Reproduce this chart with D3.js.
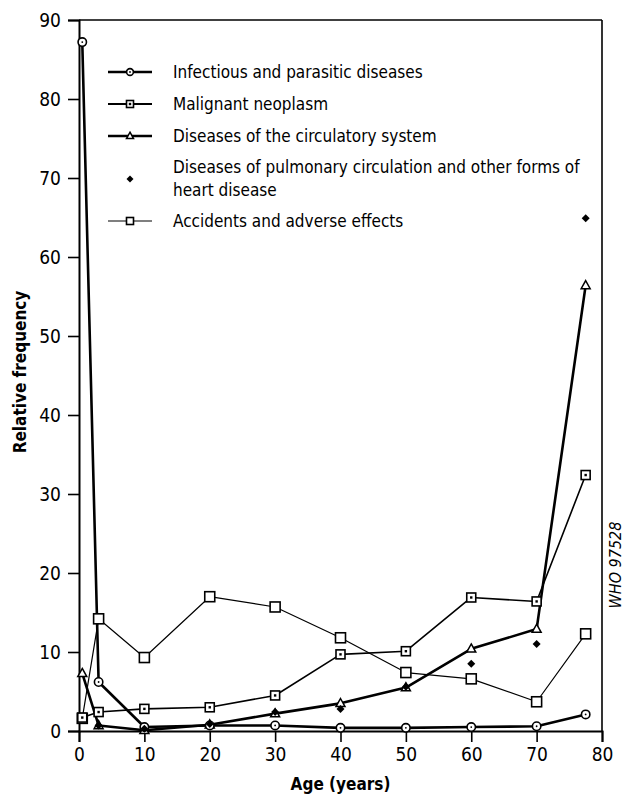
<!DOCTYPE html>
<html>
<head>
<meta charset="utf-8">
<script src="https://cdn.jsdelivr.net/npm/d3@7"></script>
<style>
  html, body { margin: 0; padding: 0; background: #fff; }
  svg { display: block; }
  text { font-family: "DejaVu Sans Condensed", "DejaVu Sans", sans-serif; font-stretch: condensed; fill: #000; }
</style>
</head>
<body>
<script>
// Age points (years) at which relative frequencies were recorded
const ages = [0.5, 3, 10, 20, 30, 40, 50, 60, 70, 77.5];

const infectious  = [87.2, 6.2, 0.5, 0.7, 0.7, 0.4, 0.4, 0.5, 0.6, 2.1];
const neoplasm    = [1.7, 2.4, 2.8, 3.0, 4.5, 9.7, 10.1, 16.9, 16.4, 32.4];
const circulatory = [7.3, 0.7, 0.1, 0.8, 2.2, 3.5, 5.5, 10.4, 12.9, 56.4];
const accidents   = [1.6, 14.2, 9.3, 17.0, 15.7, 11.8, 7.4, 6.6, 3.7, 12.3];

// Pulmonary circulation / other heart disease: points only
const pulmonaryAges = [3, 10, 20, 30, 40, 50, 60, 70, 77.5];
const pulmonary     = [0.7, 0.3, 0.9, 2.4, 2.8, 5.6, 8.5, 11.0, 64.9];

const xTicks = [0, 10, 20, 30, 40, 50, 60, 70, 80];
const yTicks = [0, 10, 20, 30, 40, 50, 60, 70, 80, 90];

const legendLabels = [
  ["Infectious and parasitic diseases"],
  ["Malignant neoplasm"],
  ["Diseases of the circulatory system"],
  ["Diseases of pulmonary circulation and other forms of", "heart disease"],
  ["Accidents and adverse effects"]
];

const W = 631, H = 802;
const svg = d3.select("body").append("svg").attr("width", W).attr("height", H);

const x = d3.scaleLinear().domain([0, 80]).range([79, 602]);
const y = d3.scaleLinear().domain([0, 90]).range([731, 20]);

// Frame: top and right edges
svg.append("line").attr("x1", x(0)).attr("x2", x(80)).attr("y1", y(90)).attr("y2", y(90))
  .attr("stroke", "#000").attr("stroke-width", 1.6);
svg.append("line").attr("x1", x(80)).attr("x2", x(80)).attr("y1", y(90)).attr("y2", y(0))
  .attr("stroke", "#000").attr("stroke-width", 1.6);

// Axes
const yAxis = svg.append("g").attr("transform", `translate(${x(0)},0)`)
  .call(d3.axisLeft(y).tickValues(yTicks).tickSize(11).tickPadding(7).tickFormat(d3.format("d")));
const xAxis = svg.append("g").attr("transform", `translate(0,${y(0)})`)
  .call(d3.axisBottom(x).tickValues(xTicks).tickSize(11).tickPadding(6).tickFormat(d3.format("d")));
[yAxis, xAxis].forEach(g => {
  g.select(".domain").attr("stroke", "#000").attr("stroke-width", 2);
  g.selectAll(".tick line").attr("stroke", "#000").attr("stroke-width", 1.6);
  g.selectAll(".tick text").style("font-size", "19px")
    .style("font-family", '"DejaVu Sans Condensed", "DejaVu Sans", sans-serif');
});

// Axis titles
svg.append("text").attr("x", x(40)).attr("y", 790).attr("text-anchor", "middle")
  .style("font-size", "17px").style("font-weight", "bold").text("Age (years)");
svg.append("text").attr("transform", `translate(26,${372}) rotate(-90)`).attr("text-anchor", "middle")
  .style("font-size", "17px").style("font-weight", "bold").text("Relative frequency");
svg.append("text").attr("transform", `translate(621,${565}) rotate(-90)`).attr("text-anchor", "middle")
  .style("font-size", "16px").style("font-style", "italic").text("WHO 97528");

// Marker helpers
function circleMark(g, cx, cy, r) {
  g.append("circle").attr("cx", cx).attr("cy", cy).attr("r", r)
    .attr("fill", "#fff").attr("stroke", "#000").attr("stroke-width", 1.6);
  g.append("circle").attr("cx", cx).attr("cy", cy).attr("r", 0.9).attr("fill", "#000");
}
function squareMark(g, cx, cy, s, dot) {
  g.append("rect").attr("x", cx - s / 2).attr("y", cy - s / 2).attr("width", s).attr("height", s)
    .attr("fill", "#fff").attr("stroke", "#000").attr("stroke-width", 1.6);
  if (dot) g.append("rect").attr("x", cx - 1.2).attr("y", cy - 1.2).attr("width", 2.4).attr("height", 2.4).attr("fill", "#000");
}
function triangleMark(g, cx, cy, s) {
  const h = s * 0.9;
  g.append("path").attr("d", `M${cx},${cy - h * 0.6}L${cx + s / 2},${cy + h * 0.4}L${cx - s / 2},${cy + h * 0.4}Z`)
    .attr("fill", "#fff").attr("stroke", "#000").attr("stroke-width", 1.5);
}
function diamondMark(g, cx, cy, s) {
  g.append("path").attr("d", `M${cx},${cy - s / 2}L${cx + s / 2},${cy}L${cx},${cy + s / 2}L${cx - s / 2},${cy}Z`)
    .attr("fill", "#000");
}

const line = d3.line().x(d => x(d[0])).y(d => y(d[1]));
const zipped = vals => ages.map((a, i) => [a, vals[i]]);

// Series definitions
const series = [
  { vals: accidents,   width: 1.2, mark: (g, cx, cy) => squareMark(g, cx, cy, 10, false) },
  { vals: neoplasm,    width: 1.6, mark: (g, cx, cy) => squareMark(g, cx, cy, 9, true) },
  { vals: circulatory, width: 2.6, mark: (g, cx, cy) => triangleMark(g, cx, cy, 9) },
  { vals: infectious,  width: 2.6, mark: (g, cx, cy) => circleMark(g, cx, cy, 4.2) }
];

const plot = svg.append("g");
series.forEach(s => {
  plot.append("path").datum(zipped(s.vals)).attr("d", line)
    .attr("fill", "none").attr("stroke", "#000").attr("stroke-width", s.width).attr("stroke-linejoin", "round");
});
series.forEach(s => {
  const g = plot.append("g");
  zipped(s.vals).forEach(d => s.mark(g, x(d[0]), y(d[1])));
});
const pg = plot.append("g");
pulmonaryAges.forEach((a, i) => diamondMark(pg, x(a), y(pulmonary[i]), 8));

// Legend
const legend = svg.append("g");
const lx0 = 108, lx1 = 152, lxm = 130, tx = 173;
const rows = [72, 104, 136, 179, 221];
const legendStyles = [
  { width: 2.6, mark: (g, cx, cy) => circleMark(g, cx, cy, 3.4) },
  { width: 1.8, mark: (g, cx, cy) => squareMark(g, cx, cy, 7, true) },
  { width: 2.6, mark: (g, cx, cy) => triangleMark(g, cx, cy, 7) },
  { width: 0, mark: (g, cx, cy) => diamondMark(g, cx, cy, 7) },
  { width: 1.2, mark: (g, cx, cy) => squareMark(g, cx, cy, 7, false) }
];
legendLabels.forEach((lines, i) => {
  const cy = rows[i];
  const st = legendStyles[i];
  if (st.width > 0) {
    legend.append("line").attr("x1", lx0).attr("x2", lx1).attr("y1", cy).attr("y2", cy)
      .attr("stroke", "#000").attr("stroke-width", st.width);
  }
  st.mark(legend, lxm, cy);
  const lh = 23;
  const top = cy - (lines.length - 1) * lh / 2;
  lines.forEach((t, j) => {
    legend.append("text").attr("x", tx).attr("y", top + j * lh).attr("dy", "0.35em")
      .style("font-size", "17px").text(t);
  });
});
</script>
</body>
</html>
